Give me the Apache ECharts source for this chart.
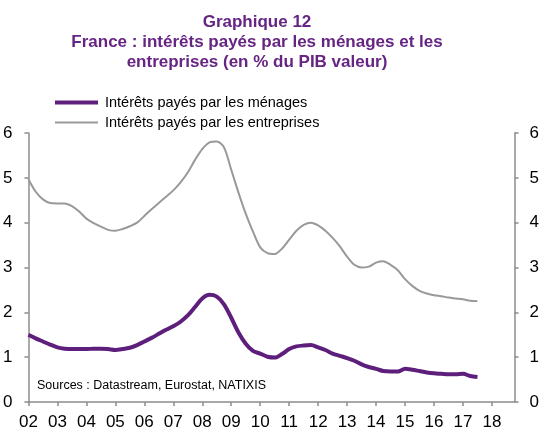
<!DOCTYPE html>
<html>
<head>
<meta charset="utf-8">
<script src="https://cdn.jsdelivr.net/npm/echarts@6/dist/echarts.min.js"></script>
<style>html,body{margin:0;padding:0;background:#fff}#c{width:542px;height:431px}</style>
</head>
<body>
<div id="c"></div>
<script>
// Quarterly data, 2002 Q1 .. 2017 Q3 (x = year + quarter/4)
const startYear = 2002;
const nQuarters = 63;
const menages = [1.50,1.42,1.35,1.28,1.22,1.19,1.18,1.18,1.18,1.19,1.19,1.18,1.16,1.18,1.21,1.27,
  1.35,1.43,1.52,1.61,1.69,1.79,1.93,2.12,2.31,2.39,2.35,2.18,1.88,1.55,1.30,1.14,
  1.08,1.01,0.99,1.07,1.18,1.24,1.26,1.27,1.22,1.16,1.08,1.03,0.98,0.92,0.84,0.78,
  0.74,0.69,0.68,0.68,0.74,0.72,0.69,0.66,0.64,0.63,0.62,0.62,0.63,0.58,0.56];
const entreprises = [4.97,4.69,4.52,4.44,4.43,4.43,4.37,4.25,4.09,3.99,3.91,3.84,3.82,3.86,3.92,4.00,
  4.15,4.30,4.44,4.58,4.72,4.90,5.12,5.40,5.64,5.79,5.81,5.68,5.18,4.67,4.20,3.80,
  3.45,3.32,3.30,3.42,3.62,3.82,3.95,4.00,3.94,3.82,3.66,3.47,3.24,3.06,3.00,3.02,
  3.11,3.14,3.06,2.94,2.74,2.59,2.48,2.42,2.38,2.36,2.33,2.31,2.29,2.26,2.25];
const seriesNames = ['Intérêts payés par les ménages','Intérêts payés par les entreprises'];

const xs = [];
for (let i = 0; i < nQuarters; i++) xs.push(startYear + i / 4);
const pair = arr => arr.map((v, i) => [xs[i], v]);

const axisColor = '#8c8c8c';
const purple = '#5e1f7c';
const grey = '#999999';
const font = 'Liberation Sans, Arial, sans-serif';
const chart = echarts.init(document.getElementById('c'));
const yAxisCommon = {
  type: 'value', min: 0, max: 6, interval: 1,
  axisLine: {show: true, lineStyle: {color: axisColor, width: 1.5}},
  axisTick: {show: true, inside: false, length: 4, lineStyle: {color: axisColor, width: 1.5}},
  splitLine: {show: false},
  axisLabel: {color: '#000', fontSize: 17, fontFamily: font}
};
const legendCommon = {
  orient: 'vertical', left: 50, itemWidth: 43, icon: 'rect',
  textStyle: {color: '#000', fontSize: 14.5, fontFamily: font, padding: [0,0,0,2]}
};
chart.setOption({
  animation: false,
  title: {
    text: 'Graphique 12\nFrance : intérêts payés par les ménages et les\nentreprises (en % du PIB valeur)',
    left: 252, top: 7, textAlign: 'center',
    textStyle: {color: '#662483', fontSize: 17, fontWeight: 'bold', fontFamily: font, lineHeight: 20}
  },
  legend: [
    Object.assign({}, legendCommon, {top: 90, itemHeight: 4, data: [seriesNames[0]]}),
    Object.assign({}, legendCommon, {top: 110, itemHeight: 2, data: [seriesNames[1]]})
  ],
  graphic: [{
    type: 'text', left: 37, top: 379,
    style: {text: 'Sources : Datastream, Eurostat, NATIXIS', fill: '#000', fontSize: 12.5, fontFamily: font}
  }],
  grid: {left: 25.7, right: 23, top: 133, bottom: 29, containLabel: false},
  xAxis: {
    type: 'value', min: 2002, max: 2018.78, interval: 1,
    axisLine: {show: true, onZero: false, lineStyle: {color: axisColor, width: 1.5}},
    axisTick: {show: true, length: 4, lineStyle: {color: axisColor, width: 1.5}},
    splitLine: {show: false},
    axisLabel: {
      color: '#000', fontSize: 17, fontFamily: font, margin: 12, showMaxLabel: false,
      formatter: v => Number.isInteger(v) ? String(v % 100).padStart(2, '0') : ''
    }
  },
  yAxis: [
    Object.assign({}, yAxisCommon, {position: 'left', axisLabel: Object.assign({}, yAxisCommon.axisLabel, {margin: 16})}),
    Object.assign({}, yAxisCommon, {position: 'right', axisLabel: Object.assign({}, yAxisCommon.axisLabel, {margin: 15})})
  ],
  series: [
    {name: seriesNames[0], type: 'line', yAxisIndex: 0, data: pair(menages), symbol: 'none', smooth: 0.3,
     lineStyle: {color: purple, width: 4}, itemStyle: {color: purple}, z: 3},
    {name: seriesNames[1], type: 'line', yAxisIndex: 0, data: pair(entreprises), symbol: 'none', smooth: 0.3,
     lineStyle: {color: grey, width: 2}, itemStyle: {color: grey}, z: 2}
  ]
});
</script>
</body>
</html>
